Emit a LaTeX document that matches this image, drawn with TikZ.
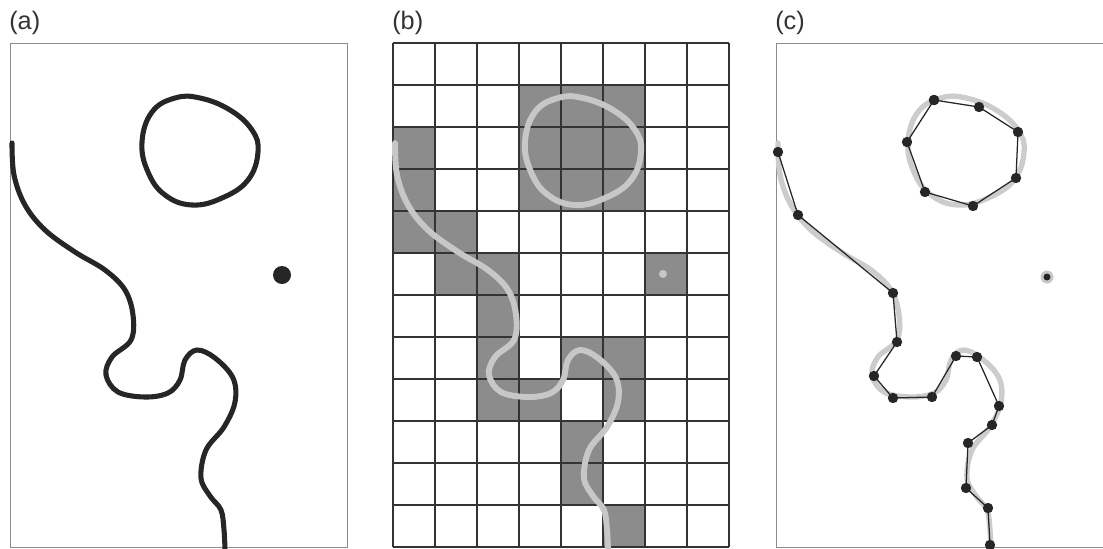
\documentclass[tikz,border=0pt]{standalone}
\usepackage{fontspec}
\setmainfont{Liberation Sans}
\begin{document}
\begin{tikzpicture}[x=0.025cm,y=-0.025cm,font=\fontsize{18}{21}\selectfont,
    frame/.style={draw=black!45,line width=0.7pt},
    label/.style={anchor=base west,inner sep=0pt,text=black!80},
    cell/.style={fill=black!45},
    gridline/.style={draw=black!80,line width=0.8pt},
    vertex/.style={mark=*,mark size=3.2pt,mark options={fill=black!85,draw=black!85}}]
\useasboundingbox (0,0) rectangle (1103,548);
\clip (0,0) rectangle (1103,548);
\node[label] (la) at (9,29) {(a)};
\node[label] (lb) at (392,29) {(b)};
\node[label] (lc) at (775,29) {(c)};
\draw[frame] (10,43) rectangle (347,547);
\foreach \c/\r in {3/1,4/1,5/1,0/2,3/2,4/2,5/2,0/3,3/3,4/3,5/3,0/4,1/4,1/5,2/5,6/5,
    2/6,2/7,4/7,5/7,2/8,3/8,5/8,4/9,4/10,5/11}
  \fill[cell] ({393+42*\c},{43+42*\r}) rectangle +(42,42);
\foreach \c in {0,...,8} \draw[gridline] ({393+42*\c},43) -- ++(0,504);
\foreach \r in {0,...,12} \draw[gridline] (393,{43+42*\r}) -- ++(336,0);
\draw[frame] (776,43) rectangle (1130,547);
\foreach \dx/\col/\lw in {0/black!85/3.6pt,383/black!22/4.2pt,766/black!20/3.8pt}{
  \draw[shift={(\dx,0)},draw=\col,line width=\lw,line cap=round]
    plot[smooth,tension=0.6] coordinates {(12,143) (14,175) (25,205) (45,230) (75,252)
      (105,270) (125,290) (133,315) (131,340) (112,357) (106,375) (118,392) (145,397)
      (168,393) (180,380) (185,360) (197,350) (215,358) (233,378) (235,402) (224,427)
      (206,450) (201,478) (210,496) (221,510) (224,530) (225,550)};
  \draw[shift={(\dx,0)},draw=\col,line width=\lw]
    plot[smooth cycle,tension=0.7] coordinates {(142,142) (152,112) (175,98) (200,98)
      (230,110) (252,130) (258,152) (248,180) (222,198) (192,205) (165,195) (148,172)};
}
\fill[black!85] (282,275) circle (9);
\fill[black!22] (663,274) circle (4);
\fill[black!22] (1047,277) circle (6.5);
\fill[black!85] (1047,277) circle (3.5);
\draw[black!85,line width=0.9pt] plot[vertex] coordinates {(778,152) (798,215) (893,293)
  (897,342) (874,376) (893,398) (932,397) (956,356) (977,357) (999,406) (992,425)
  (968,443) (966,488) (988,508) (990,545)};
\draw[black!85,line width=0.9pt] plot[vertex] coordinates {(934,100) (979,107) (1018,132)
  (1016,178) (973,206) (925,192) (907,142) (934,100)};
\end{tikzpicture}
\end{document}
